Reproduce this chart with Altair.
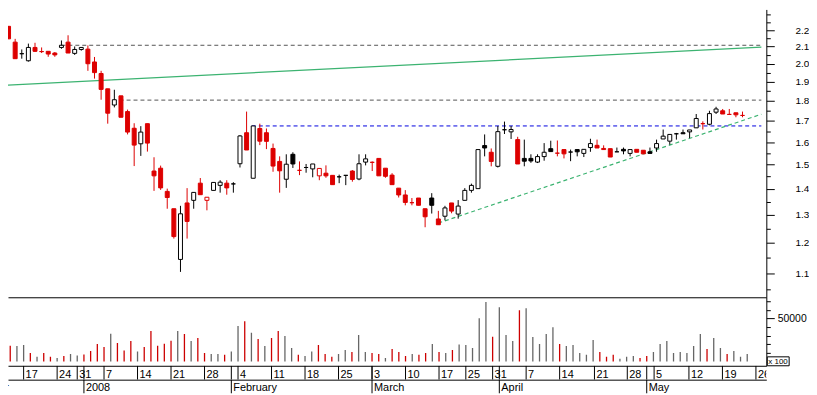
import altair as alt
import pandas as pd

FONT = "Liberation Sans"
RED = "#dd0000"
VOL_RED = "#cc0000"
VOL_GREY = "#666666"

# trading-day index of the first candle (Dec 12 2007 = 2, Dec 10 = 0)
FIRST = 2

opens = [2.225, 2.127, 2.058, 2.017, 2.095, 2.071, 2.072, 2.062, 2.095, 2.127, 2.060, 2.083,
         2.085, 2.010, 1.945, 1.862, 1.778, 1.825, 1.745, 1.664, 1.592, 1.686, 1.473, 1.485,
         1.390, 1.323, 1.145, 1.345, 1.355, 1.423, 1.355, 1.394, 1.414, 1.423, 1.420, 1.504,
         1.643, 1.443, 1.663, 1.643, 1.571, 1.514, 1.439, 1.545, 1.476, 1.488, 1.482, 1.453,
         1.464, 1.455, 1.449, 1.455, 1.473, 1.440, 1.511, 1.510, 1.527, 1.485, 1.456, 1.403,
         1.376, 1.346, 1.364, 1.323, 1.364, 1.285, 1.295, 1.345, 1.303, 1.355, 1.394, 1.401,
         1.584, 1.554, 1.493, 1.657, 1.647, 1.611, 1.527, 1.527, 1.511, 1.535, 1.570, 1.550,
         1.566, 1.555, 1.566, 1.549, 1.575, 1.585, 1.571, 1.570, 1.556, 1.567, 1.549, 1.567,
         1.563, 1.556, 1.573, 1.614, 1.604, 1.638, 1.643, 1.647, 1.666, 1.686, 1.683, 1.742,
         1.749, 1.731, 1.739, 1.726]
highs = [2.225, 2.147, 2.083, 2.118, 2.123, 2.095, 2.072, 2.068, 2.137, 2.169, 2.101, 2.095,
         2.107, 2.039, 1.960, 1.862, 1.857, 1.825, 1.755, 1.688, 1.674, 1.686, 1.532, 1.496,
         1.401, 1.323, 1.334, 1.403, 1.386, 1.444, 1.367, 1.426, 1.435, 1.435, 1.427, 1.632,
         1.745, 1.675, 1.686, 1.663, 1.593, 1.536, 1.545, 1.554, 1.514, 1.503, 1.503, 1.484,
         1.497, 1.455, 1.458, 1.455, 1.477, 1.545, 1.545, 1.514, 1.527, 1.485, 1.464, 1.403,
         1.395, 1.364, 1.364, 1.323, 1.383, 1.315, 1.334, 1.345, 1.356, 1.403, 1.421, 1.566,
         1.635, 1.571, 1.675, 1.696, 1.675, 1.624, 1.611, 1.545, 1.545, 1.595, 1.606, 1.607,
         1.566, 1.566, 1.566, 1.567, 1.615, 1.611, 1.585, 1.570, 1.575, 1.575, 1.566, 1.567,
         1.563, 1.575, 1.611, 1.658, 1.635, 1.642, 1.658, 1.656, 1.733, 1.697, 1.749, 1.769,
         1.758, 1.758, 1.739, 1.745]
lows = [2.147, 2.029, 2.029, 2.012, 2.068, 2.062, 2.040, 2.040, 2.087, 2.062, 2.051, 2.076,
        1.960, 1.917, 1.805, 1.686, 1.766, 1.717, 1.635, 1.494, 1.538, 1.557, 1.392, 1.396,
        1.323, 1.215, 1.105, 1.215, 1.323, 1.377, 1.317, 1.394, 1.385, 1.377, 1.385, 1.488,
        1.564, 1.443, 1.586, 1.568, 1.470, 1.385, 1.404, 1.486, 1.456, 1.466, 1.447, 1.435,
        1.445, 1.417, 1.423, 1.415, 1.429, 1.435, 1.497, 1.473, 1.453, 1.445, 1.417, 1.366,
        1.336, 1.336, 1.336, 1.255, 1.305, 1.264, 1.280, 1.306, 1.286, 1.355, 1.385, 1.401,
        1.536, 1.493, 1.488, 1.637, 1.614, 1.503, 1.493, 1.508, 1.507, 1.517, 1.557, 1.536,
        1.527, 1.515, 1.536, 1.533, 1.556, 1.573, 1.566, 1.533, 1.556, 1.545, 1.536, 1.554,
        1.547, 1.549, 1.556, 1.614, 1.588, 1.611, 1.638, 1.618, 1.666, 1.658, 1.678, 1.733,
        1.733, 1.731, 1.717, 1.717]
closes = [2.147, 2.029, 2.058, 2.095, 2.072, 2.070, 2.056, 2.051, 2.108, 2.062, 2.083, 2.095,
          2.000, 1.950, 1.859, 1.737, 1.805, 1.717, 1.646, 1.586, 1.646, 1.595, 1.453, 1.404,
          1.366, 1.222, 1.304, 1.276, 1.386, 1.377, 1.367, 1.426, 1.427, 1.404, 1.420, 1.628,
          1.564, 1.675, 1.604, 1.603, 1.494, 1.474, 1.502, 1.503, 1.476, 1.488, 1.503, 1.484,
          1.453, 1.417, 1.449, 1.455, 1.438, 1.504, 1.525, 1.510, 1.453, 1.451, 1.417, 1.376,
          1.347, 1.346, 1.336, 1.293, 1.336, 1.264, 1.326, 1.314, 1.333, 1.394, 1.414, 1.566,
          1.573, 1.514, 1.648, 1.657, 1.658, 1.503, 1.515, 1.516, 1.535, 1.554, 1.557, 1.550,
          1.547, 1.555, 1.556, 1.567, 1.593, 1.573, 1.566, 1.533, 1.556, 1.560, 1.566, 1.554,
          1.547, 1.549, 1.593, 1.627, 1.635, 1.638, 1.638, 1.656, 1.711, 1.686, 1.735, 1.758,
          1.733, 1.731, 1.729, 1.726]

# volume (x 100)
volumes = [11500, 18400, 18000, 19200, 10000, 5400, 10000, 5400, 4200, 6500, 8800, 6900,
           8100, 12300, 20400, 16900, 32300, 21500, 12700, 23800, 11500, 16900, 35300, 18400,
           20700, 24200, 35300, 31900, 23800, 27300, 10000, 8800, 8800, 7700, 11500, 41100,
           46800, 33400, 26100, 18000, 27300, 35300, 29600, 15700, 7700, 6500, 11500, 19200,
           8800, 5400, 8800, 13400, 11100, 30700, 11100, 10000, 8800, 4200, 14600, 11100,
           6500, 8800, 7700, 10000, 20400, 11100, 10000, 13400, 19600, 19200, 15700, 50300,
           69100, 28800, 63000, 30700, 23800, 59500, 61800, 28400, 20400, 31900, 39900, 20400,
           18000, 19200, 10000, 7700, 25000, 11100, 5400, 7700, 3100, 5400, 6500, 4200,
           6500, 11100, 20400, 23800, 10000, 11100, 10000, 18000, 31900, 14600, 27300, 15700,
           8800, 12300, 5400, 8800]
down_volume_days = [2, 3, 6, 8, 9, 11, 14, 15, 16, 17, 19, 20, 21, 23, 24, 25, 26, 27, 29, 31,
                    32, 35, 38, 40, 42, 43, 46, 49, 50, 51, 54, 57, 58, 60, 61, 62, 64, 65, 67,
                    69, 75, 79, 85, 91, 92, 93, 97, 98, 107, 110]

# date axis (trading-day index)
week_pos = [0, 5, 10, 13, 17, 22, 27, 32, 37, 42, 47, 52, 57, 62, 67, 71, 75, 80, 85, 90.2,
            95.1, 99.1, 104.3, 109.3, 114.3]
week_lab = ["10", "17", "24", "31", "7", "14", "21", "28", "4", "11", "18", "25", "3", "10",
            "17", "25", "31", "7", "14", "21", "28", "5", "12", "19", "26"]
month_pos = [-5, 14, 36, 57, 76, 98]
month_lab = ["December", "2008", "February", "March", "April", "May"]

# price axis ticks
price_ticks = [1.05, 1.1, 1.15, 1.2, 1.25, 1.3, 1.35, 1.4, 1.45, 1.5, 1.55, 1.6, 1.65, 1.7,
               1.75, 1.8, 1.85, 1.9, 1.95, 2.0, 2.05, 2.1, 2.15, 2.2, 2.25, 2.3, 2.35]
volume_ticks = [0, 10000, 20000, 30000, 40000, 50000, 60000, 70000]

# horizontal resistance levels
level_price = [2.108, 1.803, 1.675]
level_start = [10, 18.8, 38.8]
level_colour = ["#555555", "#555555", "#0000e0"]

# trend lines
channel_idx = [1.48, 115.85]
channel_price = [1.881, 2.097]
trend_idx = [67, 115.85]
trend_price = [1.270, 1.732]

XDOM = [2.667, 115.85]
W = 764

n = len(opens)
idx = list(range(FIRST, FIRST + n))
colour, fill = [], []
for i in range(n):
    prev = closes[i - 1] if i > 0 else opens[i]
    c = RED if closes[i] < prev else "black"
    colour.append(c)
    fill.append(c if closes[i] < opens[i] else "white")
candles = pd.DataFrame(dict(idx=idx, open=opens, high=highs, low=lows, close=closes,
                            colour=colour, fill=fill))
vol = pd.DataFrame(dict(idx=idx, vol=volumes,
                        colour=[VOL_RED if d in down_volume_days else VOL_GREY for d in idx]))
levels = pd.DataFrame(dict(start=level_start, end=[XDOM[1]] * 3, level=level_price,
                           colour=level_colour))
channel = pd.DataFrame(dict(idx=channel_idx, price=channel_price))
trend = pd.DataFrame(dict(idx=trend_idx, price=trend_price))
weeks = pd.DataFrame(dict(idx=week_pos, lab=week_lab))
months = pd.DataFrame(dict(idx=month_pos, lab=month_lab))

xscale = alt.Scale(domain=XDOM, nice=False, zero=False)
x_axis = alt.Axis(title=None, labels=False, ticks=False, grid=False, domain=True,
                  domainColor="black", domainWidth=1)


def X(field="idx", axis=x_axis):
    return alt.X(f"{field}:Q", scale=xscale, axis=axis)


pscale = alt.Scale(type="log", domain=[1.0279, 2.3347], nice=False, zero=False)
major_test = "abs(datum.value*10 - round(datum.value*10)) < 0.001 && datum.value < 2.25"
p_axis = alt.Axis(orient="right", values=price_ticks, title=None, grid=False,
                  domainColor="black", tickColor="black",
                  tickSize={"condition": {"test": major_test, "value": 8}, "value": 4},
                  labelExpr=f"({major_test}) ? format(datum.value, '.1f') : ''",
                  labelPadding=21, labelFont=FONT, labelFontSize=10, labelColor="black",
                  labelOverlap=False, labelFlush=False)


def PY(field):
    return alt.Y(f"{field}:Q", scale=pscale, axis=p_axis)


base_levels = alt.Chart(levels).mark_rule(strokeDash=[4, 3], strokeWidth=1, clip=True).encode(
    x=X("start"), x2="end:Q", y=PY("level"), color=alt.Color("colour:N", scale=None))
chan = alt.Chart(channel).mark_line(color="#3cb371", strokeWidth=1.3, clip=True).encode(
    x=X(), y=PY("price"))
tr = alt.Chart(trend).mark_line(color="#3cb371", strokeWidth=1.2, strokeDash=[4, 3],
                                clip=True).encode(x=X(), y=PY("price"))
wicks = alt.Chart(candles).mark_rule(strokeWidth=1, clip=True).encode(
    x=X(), y=PY("low"), y2="high:Q", color=alt.Color("colour:N", scale=None))
bodies = alt.Chart(candles).mark_bar(size=4, strokeWidth=1, clip=True).encode(
    x=X(), y=PY("open"), y2="close:Q",
    fill=alt.Fill("fill:N", scale=None), stroke=alt.Stroke("colour:N", scale=None))

price = alt.layer(base_levels, chan, tr, wicks, bodies).properties(width=W, height=290)

vscale = alt.Scale(domain=[-4954, 74539], nice=False, zero=False)
v_axis = alt.Axis(orient="right", values=volume_ticks, title=None, grid=False,
                  domainColor="black", tickColor="black",
                  tickSize={"condition": {"test": "datum.value == 50000", "value": 8}, "value": 4},
                  labelExpr="datum.value == 50000 ? '50000' : ''",
                  labelPadding=3, labelFont=FONT, labelFontSize=10.5, labelColor="black",
                  labelOverlap=False, labelFlush=False)
vbars = alt.Chart(vol).mark_rule(strokeWidth=1.3, clip=True).encode(
    x=X(), y=alt.Y("vol:Q", scale=vscale, axis=v_axis), y2=alt.datum(0),
    color=alt.Color("colour:N", scale=None))
unit_df = pd.DataFrame(dict(t=["x 100"]))
unit_box = alt.Chart(unit_df).mark_rect(fill="white", stroke="black", strokeWidth=1).encode(
    x=alt.value(765), x2=alt.value(787), y=alt.value(60), y2=alt.value(69))
unit_txt = alt.Chart(unit_df).mark_text(fontSize=8, font=FONT, align="left",
                                        baseline="middle", color="black").encode(
    x=alt.value(766), y=alt.value(65), text="t:N")
volume = alt.layer(vbars, unit_box, unit_txt).properties(width=W, height=69)

week_rules = alt.Chart(weeks).mark_rule(color="black", strokeWidth=1, clip=True).encode(x=X())
week_text = alt.Chart(weeks).mark_text(align="left", baseline="alphabetic", dx=2, fontSize=11,
                                       font=FONT, color="black", clip=True).encode(
    x=X(), y=alt.value(12), text="lab:N")
month_rules_a = alt.Chart(months).mark_rule(color="black", strokeWidth=1, clip=True).encode(
    x=X())
dayrow = alt.layer(week_rules, week_text, month_rules_a).properties(width=W, height=14)

month_rules_b = alt.Chart(months).mark_rule(color="black", strokeWidth=1, clip=True).encode(
    x=X(axis=None))
month_text = alt.Chart(months).mark_text(align="left", baseline="alphabetic", dx=2,
                                         fontSize=11, font=FONT, color="black",
                                         clip=True).encode(
    x=X(axis=None), y=alt.value(11.5), text="lab:N")
monthrow = alt.layer(month_rules_b, month_text).properties(width=W, height=14)

chart = alt.vconcat(price, volume, dayrow, monthrow, spacing=0).properties(
    padding=0, bounds="flush", background="white"
).configure_view(strokeWidth=0)

chart.save("out.html", embed_options={"renderer": "svg", "actions": False})
